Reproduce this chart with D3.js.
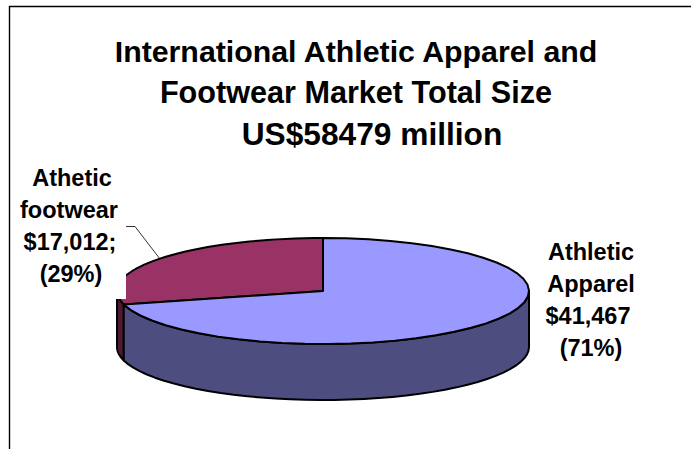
<!DOCTYPE html>
<html><head><meta charset="utf-8">
<script src="https://cdn.jsdelivr.net/npm/d3@7"></script>
<style>html,body{margin:0;padding:0;background:#fff;overflow:hidden}svg{display:block}
text{font-family:"Liberation Sans",Arial,sans-serif;font-weight:bold;fill:#000;text-anchor:middle}</style>
</head><body><svg width="691" height="449"></svg>
<script>
const categories = ["Athletic Apparel", "Athetic footwear"];
const values = [41467, 17012];
const titleLines = ["International Athletic Apparel and", "Footwear Market Total Size", "US$58479 million"];
const apparelLabel = ["Athletic", "Apparel", "$41,467", "(71%)"];
const footwearLabel = ["Athetic", "footwear", "$17,012;", "(29%)"];
const topColors = ["#9999ff", "#993366"];
const sideColors = ["#4d4d80", "#4d1a33"];

const svg = d3.select("svg");
const cx = 323, cy = 291, rx = 206, ry = 53, depth = 56;

// frame
svg.append("path").attr("d", "M9.5,449V6.5H691").attr("fill", "none").attr("stroke", "#000").attr("stroke-width", 1.4);

// title
const titleX = [356, 356, 372];
const titleSize = [30.3, 30.6, 31.7];
svg.append("g").selectAll("text").data(titleLines).join("text")
  .attr("x", (d, i) => titleX[i]).attr("y", (d, i) => 61.5 + i * 41.5)
  .attr("font-size", (d, i) => titleSize[i]).text(d => d);

const arcs = d3.pie().sort(null).value(d => d)(values);
const px = a => cx + rx * Math.sin(a);
const py = (a, dz = 0) => cy - ry * Math.cos(a) + dz;
const samples = (a0, a1) => d3.range(0, 41).map(i => a0 + (a1 - a0) * i / 40);
const line = d3.line().x(d => d[0]).y(d => d[1]);

function wall(a0, a1) {
  const s = samples(a0, a1);
  return line(s.map(a => [px(a), py(a)]).concat(s.slice().reverse().map(a => [px(a), py(a, depth)]))) + "Z";
}
function slice(a0, a1) {
  return line([[cx, cy]].concat(samples(a0, a1).map(a => [px(a), py(a)]))) + "Z";
}
const stroke = s => s.attr("stroke", "#000").attr("stroke-width", 2).attr("stroke-linejoin", "round");
const PI = Math.PI;

// tops and visible walls
stroke(svg.append("path").attr("d", slice(arcs[1].startAngle, arcs[1].endAngle)).attr("fill", topColors[1]));
stroke(svg.append("path").attr("d", wall(arcs[1].startAngle, 1.5 * PI)).attr("fill", sideColors[1]));
stroke(svg.append("path").attr("d", wall(PI / 2, arcs[0].endAngle)).attr("fill", sideColors[0]));
stroke(svg.append("path").attr("d", slice(arcs[0].startAngle, arcs[0].endAngle)).attr("fill", topColors[0]));

// white label box hides part of the pie, as in the original
svg.append("rect").attr("x", 20).attr("y", 160).attr("width", 106).attr("height", 139).attr("fill", "#fff");

// leader line
svg.append("path").attr("d", "M126,226.5H135L160,259").attr("fill", "none").attr("stroke", "#000").attr("stroke-width", 0.8);

// labels
const footwearX = [72, 69, 70, 71];
svg.append("g").selectAll("text").data(footwearLabel).join("text")
  .attr("x", (d, i) => footwearX[i]).attr("y", (d, i) => 186 + i * 32).attr("font-size", 23.5).text(d => d);
const apparelX = [591, 591, 588, 591];
svg.append("g").selectAll("text").data(apparelLabel).join("text")
  .attr("x", (d, i) => apparelX[i]).attr("y", (d, i) => 260 + i * 32).attr("font-size", 23.5).text(d => d);
</script></body></html>
